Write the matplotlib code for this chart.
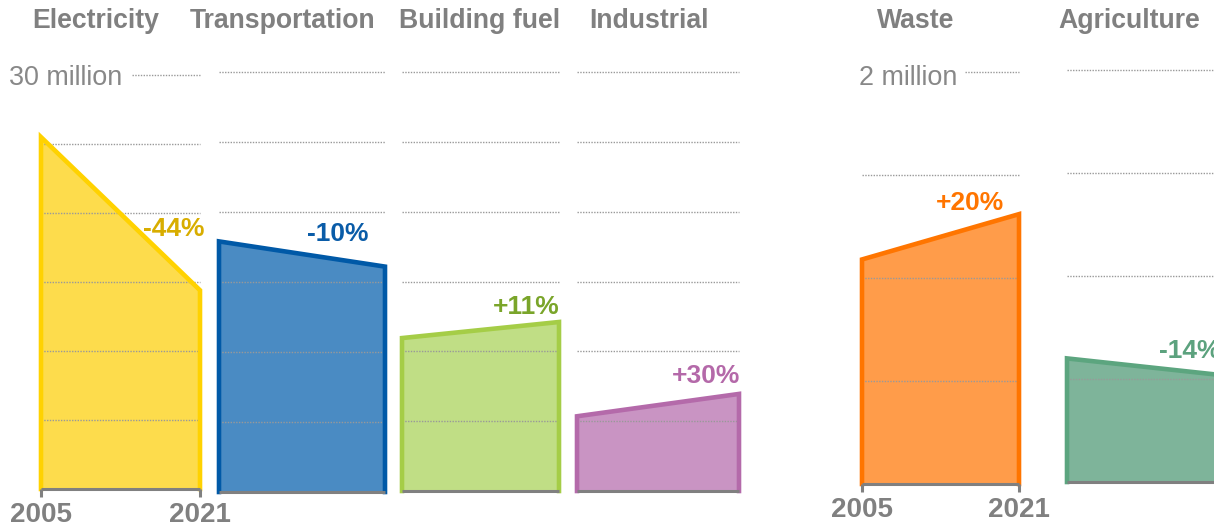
import matplotlib
matplotlib.use("Agg")
import matplotlib.pyplot as plt

plt.rcParams['font.family'] = ['Liberation Sans', 'DejaVu Sans']

W, H = 1214, 526
DPI = 100

# ---- data ----
categories = ["Electricity", "Transportation", "Building fuel", "Industrial", "Waste", "Agriculture"]
years = [2005, 2021]
values_2005 = [25.5, 17.9, 10.95, 5.35, 1.09, 0.60]   # million
values_2021 = [14.4, 16.1, 12.1, 6.95, 1.31, 0.516]   # million
pct_labels = ["-44%", "-10%", "+11%", "+30%", "+20%", "-14%"]
scale_max = [30, 30, 30, 30, 2, 2]
grid_step = [5, 5, 5, 5, 0.5, 0.5]
scale_labels = {0: "30 million", 4: "2 million"}
year_labels = ["2005", "2021"]

line_colors = ["#FFD200", "#0059A7", "#A5CD47", "#B46AAA", "#FF7500", "#5CA57F"]
fill_colors = ["#FDDC4C", "#4A8BC3", "#C0DE85", "#C994C3", "#FF9C4A", "#7EB49A"]
label_colors = ["#D8AD00", "#0A5CA8", "#7AA52A", "#B469A9", "#FF7500", "#5CA27E"]

# ---- layout (pixels) ----
# left, right, baseline y, top-grid y
panels = [
    (41, 200, 489, 75),
    (219, 385, 492, 72),
    (402, 559, 491, 72),
    (577, 739, 491, 72),
    (862, 1019, 484, 72),
    (1067, 1227, 482, 70),
]
title_cx = [96, 283, 480, 649, 916, 1129]
# label offset (pixels) of right edge / vertical centre from the 2021 point
label_off = [(5, 61), (-17, 33), (1, 15), (1, 18), (-15, 11), (-7, 25)]
scale_label_pos = {0: (122, 78), 4: (957, 78)}
grid_start_first = {0: 132, 4: 965}
GRAY = "#808080"

fig = plt.figure(figsize=(W / DPI, H / DPI), dpi=DPI)

for i, cat in enumerate(categories):
    l, r, b, t = panels[i]
    ax = fig.add_axes([l / W, 1 - b / H, (r - l) / W, (b - t) / H])
    ax.set_xlim(years[0], years[1])
    ax.set_ylim(0, scale_max[i])
    ax.axis("off")
    ppx = (years[1] - years[0]) / (r - l)      # data units per pixel (x)
    ppy = scale_max[i] / (b - t)                # data units per pixel (y)
    v = [values_2005[i], values_2021[i]]
    ax.fill_between(years, [0, 0], v, color=fill_colors[i], lw=0, zorder=1)
    # gridlines
    n = int(round(scale_max[i] / grid_step[i]))
    for k in range(1, n + 1):
        gy = k * grid_step[i]
        x0 = years[0]
        if k == n and i in grid_start_first:
            x0 = years[0] + (grid_start_first[i] - l) * ppx
        ax.plot([x0, years[1]], [gy, gy], color="#999999", lw=1.0,
                ls=(0, (1, 1)), zorder=2, clip_on=False)
    # outline
    ax.plot([years[0], years[0], years[1], years[1]], [0, v[0], v[1], 0],
            color=line_colors[i], lw=3.3, solid_joinstyle="miter",
            zorder=3, clip_on=False)
    # baseline
    ax.plot([years[0], years[1]], [0, 0], color=GRAY, lw=2.2, zorder=4,
            clip_on=False, solid_capstyle="butt")
    if i in (0, 4):
        for yx in years:
            ax.plot([yx, yx], [0, -8 * ppy], color=GRAY, lw=2.2, zorder=4,
                    clip_on=False, solid_capstyle="butt")
        for yx, lab in zip(years, year_labels):
            ax.text(yx, -33 * ppy, lab, ha="center", va="baseline",
                    fontsize=20, fontweight="bold", color=GRAY)
    # percent label
    dx, dy = label_off[i]
    ax.text(years[1] + dx * ppx, v[1] + dy * ppy, pct_labels[i],
            ha="right", va="center", fontsize=19, fontweight="bold",
            color=label_colors[i], zorder=5)
    # scale label
    if i in scale_label_pos:
        sx, sy = scale_label_pos[i]
        ax.text(years[0] + (sx - l) * ppx, (b - sy) * ppy,
                scale_labels[i], ha="right", va="center", fontsize=19.4, color="#888888")
    # title
    fig.text(title_cx[i] / W, 1 - 28 / H, cat, ha="center", va="baseline",
             fontsize=19.2, fontweight="bold", color=GRAY)

fig.savefig("out.png", dpi=DPI)
